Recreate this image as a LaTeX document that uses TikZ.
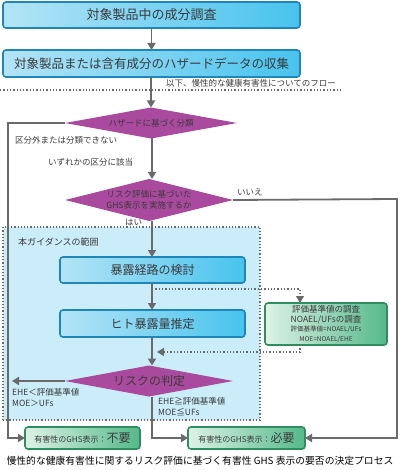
\documentclass[tikz,border=0pt]{standalone}
\usepackage{fontspec}
\setmainfont{Noto Sans CJK JP}
\usetikzlibrary{shapes.geometric, arrows.meta}

\definecolor{boxblue}{HTML}{1E86B8}
\definecolor{fillblueL}{HTML}{B4E4F6}
\definecolor{fillblueM}{HTML}{E8F7FD}
\definecolor{fillblueR}{HTML}{48C3EE}
\definecolor{pinkside}{HTML}{A94A9E}
\definecolor{pinkmid}{HTML}{F5E6F1}
\definecolor{boxgreen}{HTML}{2E8E5E}
\definecolor{fillgreenL}{HTML}{DDF2E6}
\definecolor{fillgreenR}{HTML}{55B98A}
\definecolor{scopefill}{HTML}{CBEDFA}
\definecolor{linkgray}{HTML}{6A6A6A}
\definecolor{textgray}{HTML}{3A3A3A}

\begin{document}
\begin{tikzpicture}[x = 1pt, y = -1pt, > = {Triangle[width = 8pt, length = 7pt]},
	bluebox/.style = {draw = boxblue, line width = 1.6pt, rounded corners = 3pt, left color = fillblueL, middle color = fillblueM, right color = fillblueR, text = textgray, inner sep = 0pt, outer sep = 0pt},
	greenbox/.style = {draw = boxgreen, line width = 1.6pt, rounded corners = 3pt, left color = fillgreenL, right color = fillgreenR, text = textgray, inner sep = 0pt, outer sep = 0pt},
	decision/.style = {diamond, left color = pinkside, middle color = pinkmid, right color = pinkside, text = textgray, inner sep = 0pt, outer sep = 0pt},
	link/.style = {draw = linkgray, line width = 1.8pt},
	dotlink/.style = {draw = linkgray, line width = 1.3pt, dotted},
	note/.style = {text = textgray, inner sep = 0pt, font = \fontsize{8.5}{11}\selectfont}]

	% Frame
	
	\useasboundingbox (0, 0) rectangle (400, 470);
	
	% Scope of the guidance
	
	\node [draw = linkgray, line width = 1.2pt, dotted, fill = scopefill, minimum width = 257, minimum height = 193, inner sep = 0pt] (scope) at (131.5, 323.5) {};
	\node [note, anchor = west, font = \fontsize{9}{11}\selectfont] (scopelabel) at (18, 242) {本ガイダンスの範囲};
	
	% Upper boxes
	
	\node [bluebox, minimum width = 297, minimum height = 26, font = \fontsize{13}{15}\selectfont] (survey) at (151.5, 15) {対象製品中の成分調査};
	\node [bluebox, minimum width = 297, minimum height = 27, font = \fontsize{12.5}{15}\selectfont] (hazard) at (151.5, 63.5) {対象製品または含有成分のハザードデータの収集};
	
	\draw [dotlink] (0, 90) -- (343, 90);
	\node [note, anchor = west] (chronic) at (166, 83) {以下、慢性的な健康有害性についてのフロー};
	
	% Decisions
	
	\node [decision, aspect = 5.6, minimum width = 172, minimum height = 31, font = \fontsize{8.5}{11}\selectfont] (classify) at (151, 123) {ハザードに基づく分類};
	\node [decision, aspect = 4, minimum width = 168, minimum height = 42, align = center, font = \fontsize{8.5}{11}\selectfont] (decide) at (149, 200) {リスク評価に基づいた\\GHS表示を実施するか};
	\node [decision, aspect = 5.6, minimum width = 168, minimum height = 31, font = \fontsize{12}{14}\selectfont] (judge) at (149, 381) {リスクの判定};
	
	% Boxes inside the scope
	
	\node [bluebox, minimum width = 185, minimum height = 26, font = \fontsize{12}{14}\selectfont] (route) at (152.5, 270) {暴露経路の検討};
	\node [bluebox, minimum width = 185, minimum height = 27, font = \fontsize{12}{14}\selectfont] (intake) at (152.5, 323.5) {ヒト暴露量推定};
	\node [greenbox, minimum width = 122, minimum height = 42, align = center, font = \fontsize{8.5}{10}\selectfont] (limits) at (326, 324) {評価基準値の調査\\NOAEL/UFsの調査\\[-1pt]\fontsize{6.5}{7.5}\selectfont 評価基準値=NOAEL/UFs\\\fontsize{6.5}{7.5}\selectfont MOE=NOAEL/EHE};
	
	% Result boxes
	
	\node [greenbox, minimum width = 115, minimum height = 22] (notreq) at (82.5, 438) {\fontsize{8}{10}\selectfont 有害性のGHS表示：\fontsize{12}{14}\selectfont 不要};
	\node [greenbox, minimum width = 117, minimum height = 22] (req) at (246.5, 438) {\fontsize{8}{10}\selectfont 有害性のGHS表示：\fontsize{12}{14}\selectfont 必要};
	
	% Connectors
	
	\coordinate (railL) at (8, 123);
	\coordinate (railR) at (397, 199);
	\coordinate (outL) at (12, 381);
	\coordinate (tapA) at (152, 289);
	\coordinate (tapB) at (300, 289);
	\coordinate (tapC) at (300, 352);
	\coordinate (tapD) at (157, 352);
	
	\draw [link, ->] (survey) -- (hazard);
	\draw [link, ->] (hazard.south -| classify.north) -- (classify.north);
	\draw [link, ->] (classify.west) -- (railL) |- (notreq.west);
	\draw [link, ->] (classify.south -| tapA) -- (decide.north -| tapA);
	\draw [link, ->] (decide.east) -- (railR) |- (req.east);
	\draw [link, ->] (decide.south -| tapA) -- (route.north -| tapA);
	\draw [link, ->] (route.south -| tapA) -- (intake.north -| tapA);
	\draw [link, ->] (intake.south -| tapA) -- (judge.north -| tapA);
	\draw [link, ->] (judge.west) -- (outL);
	\draw [link, ->] (judge.south -| tapA) |- (req.west);
	\draw [dotlink, ->] (tapA) -- (tapB) -- (tapB |- limits.north);
	\draw [dotlink, ->] (tapB |- limits.south) -- (tapC) -- (tapD);
	
	% Labels
	
	\node [note, anchor = west] (lblnone) at (15, 140) {区分外または分類できない};
	\node [note, anchor = west] (lblany) at (48, 162) {いずれかの区分に該当};
	\node [note, anchor = west] (lblno) at (237, 192) {いいえ};
	\node [note, anchor = west] (lblyes) at (125, 222) {はい};
	\node [note, anchor = north west, align = left] (lbllow) at (12, 388) {EHE＜評価基準値\\MOE＞UFs};
	\node [note, anchor = north west, align = left] (lblhigh) at (158, 397) {EHE≧評価基準値\\MOE≦UFs};
	
	% Caption
	
	\node [text = black, inner sep = 0pt, font = \fontsize{9.8}{12}\selectfont] (caption) at (200, 461) {慢性的な健康有害性に関するリスク評価に基づく有害性 GHS 表示の要否の決定プロセス};

\end{tikzpicture}
\end{document}
